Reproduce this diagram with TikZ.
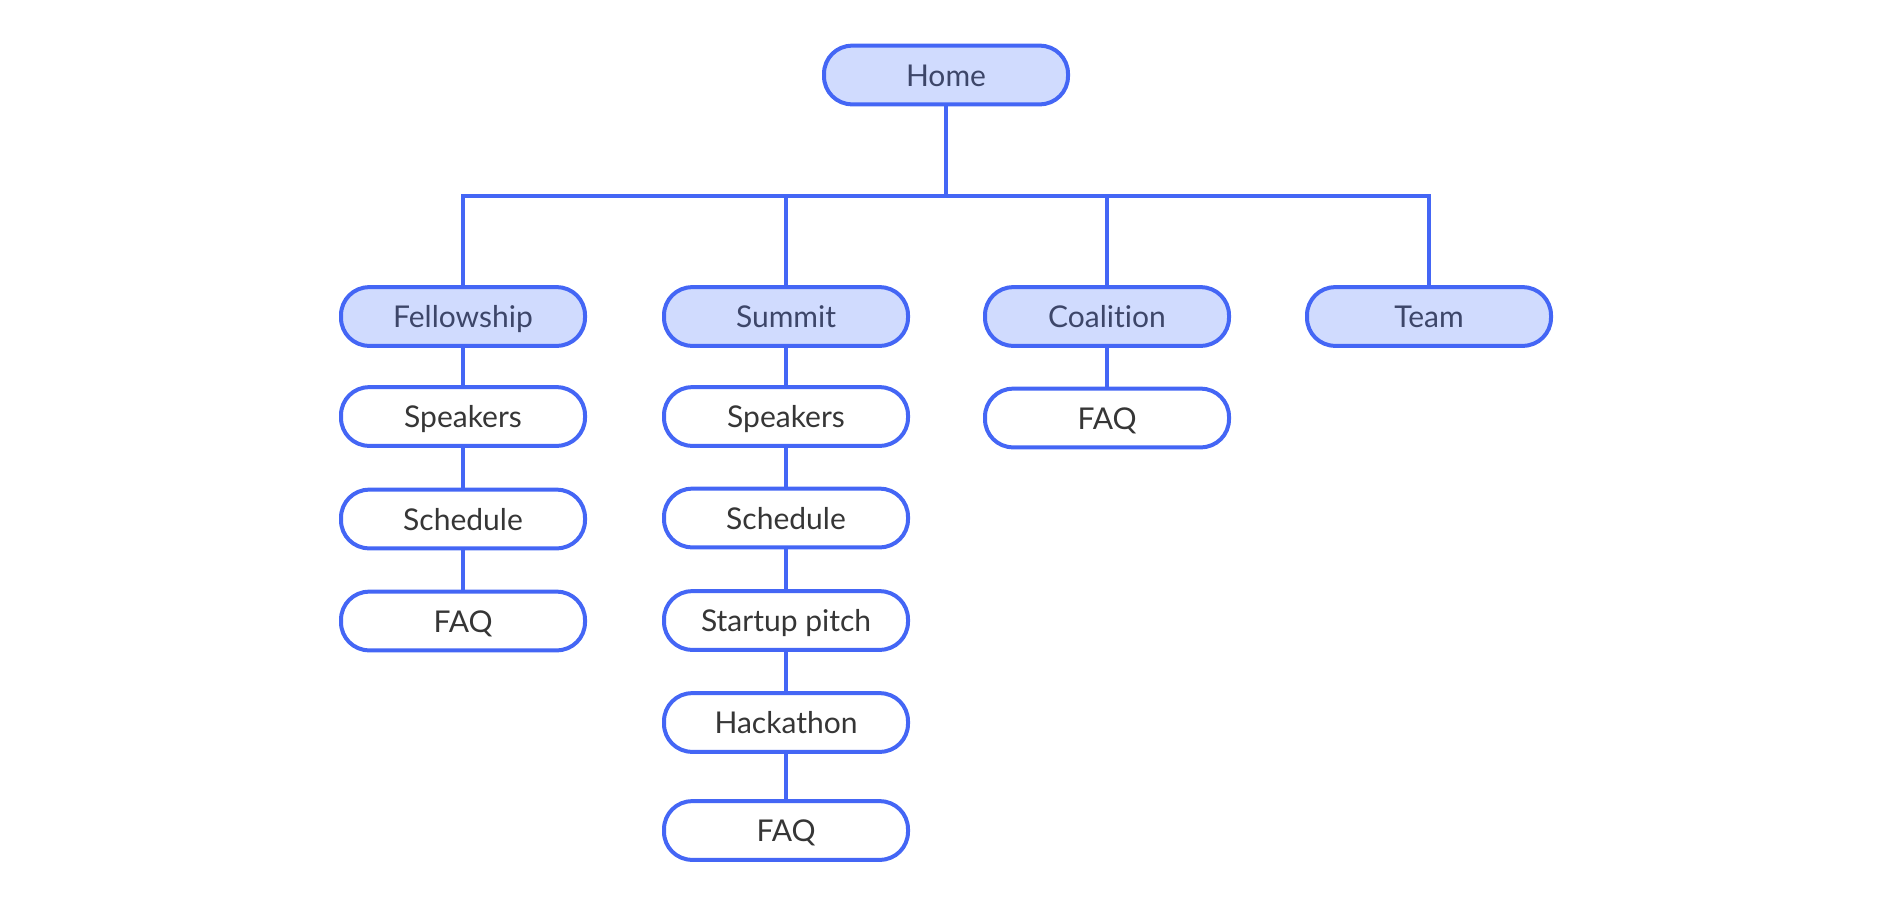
\documentclass[tikz,border=0pt]{standalone}
\usepackage{fontspec}
\setmainfont{Lato}[Ligatures={NoCommon}]
\definecolor{lineblue}{HTML}{4466F5}
\definecolor{headfill}{HTML}{D0DBFE}
\definecolor{headtext}{HTML}{3D4669}
\definecolor{childtext}{HTML}{363636}
\begin{document}
\begin{tikzpicture}[x=0.75pt,y=-0.75pt,
  box/.style={draw=lineblue, line width=3pt, rounded corners=21pt,
    minimum width=183pt, minimum height=44pt, inner sep=0pt,
    text height=19pt, text depth=2pt,
    font=\fontsize{22.5}{26}\selectfont},
  head/.style={box, fill=headfill, text=headtext},
  child/.style={box, fill=white, text=childtext},
  conn/.style={draw=lineblue, line width=3pt}]
\useasboundingbox (0,0) rectangle (1892,908);
% root
\node[head] (home) at (946,75) {Home};
% level 1
\node[head] (fel) at (463,316.5) {Fellowship};
\node[head] (sum) at (786,316.5) {Summit};
\node[head] (coa) at (1107,316.5) {Coalition};
\node[head] (team) at (1429,316.5) {Team};
% Fellowship children
\node[child] (fsp) at (463,416.5) {Speakers};
\node[child] (fsc) at (463,519) {Schedule};
\node[child] (ffaq) at (463,621) {FAQ};
% Summit children
\node[child] (ssp) at (786,416.5) {Speakers};
\node[child] (ssc) at (786,518) {Schedule};
\node[child] (spi) at (786,620.5) {Startup pitch};
\node[child] (sha) at (786,722.5) {Hackathon};
\node[child] (sfaq) at (786,830.5) {FAQ};
% Coalition child
\node[child] (cfaq) at (1107,418) {FAQ};
% bus
\coordinate (bus) at (946,196);
\draw[conn] (home.south) -- (bus);
\draw[conn] (bus) -| (fel.north);
\draw[conn] (bus) -| (team.north);
\draw[conn] (sum.north) -- (sum.north |- bus);
\draw[conn] (coa.north) -- (coa.north |- bus);
\draw[conn] (fel.south) -- (fsp.north);
\draw[conn] (fsp.south) -- (fsc.north);
\draw[conn] (fsc.south) -- (ffaq.north);
\draw[conn] (sum.south) -- (ssp.north);
\draw[conn] (ssp.south) -- (ssc.north);
\draw[conn] (ssc.south) -- (spi.north);
\draw[conn] (spi.south) -- (sha.north);
\draw[conn] (sha.south) -- (sfaq.north);
\draw[conn] (coa.south) -- (cfaq.north);
\end{tikzpicture}
\end{document}
